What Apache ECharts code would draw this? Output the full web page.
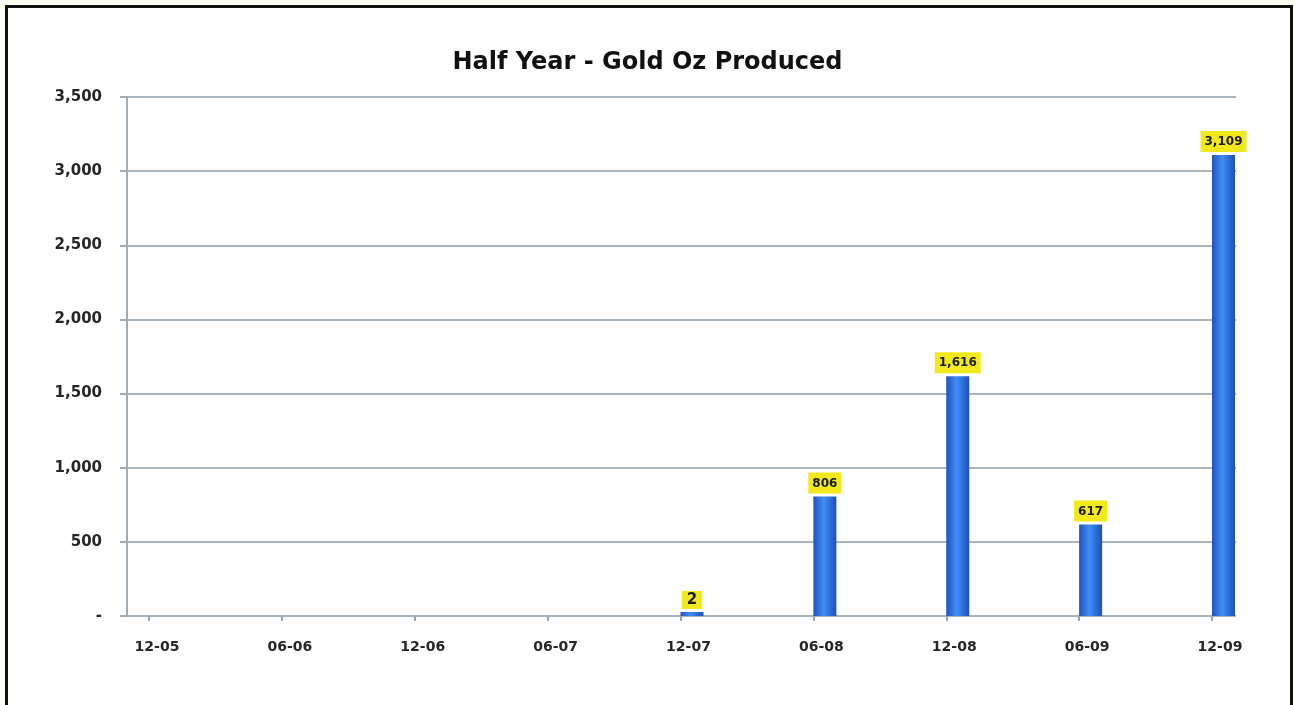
<!DOCTYPE html>
<html>
<head>
<meta charset="utf-8">
<title>Half Year - Gold Oz Produced</title>
<script src="https://cdn.jsdelivr.net/npm/echarts@6/dist/echarts.min.js"></script>
<style>
  html, body { margin: 0; padding: 0; background: #fffff2; overflow: hidden; }
  .frame {
    position: absolute; left: 5px; top: 5px;
    width: 1282px; height: 740px;
    border: 3px solid #111; background: #fff;
  }
  #chart { position: absolute; left: 0; top: 0; width: 1295px; height: 705px; }
</style>
</head>
<body>
<div class="frame"></div>
<div id="chart"></div>
<script>
// half-year periods
const periods = ["12-05", "06-06", "12-06", "06-07", "12-07", "06-08", "12-08", "06-09", "12-09"];
// gold ounces produced (null = no production)
const ounces = [null, null, null, null, 2, 806, 1616, 617, 3109];
// y axis ticks
const yMin = 0;
const yMax = 3500;
const yStep = 500;

const FONT = "DejaVu Sans, Arial, sans-serif";

const chart = echarts.init(document.getElementById("chart"));

function fmt(v) {
  return v === 0 ? "-" : v.toLocaleString("en-US");
}

const barColor = new echarts.graphic.LinearGradient(0, 0, 1, 0, [
  { offset: 0, color: "#2152bf" },
  { offset: 0.45, color: "#3f8df7" },
  { offset: 1, color: "#1f4fb8" },
]);

const option = {
  animation: false,
  title: {
    text: "Half Year - Gold Oz Produced",
    left: "center",
    top: 46,
    textStyle: {
      fontFamily: FONT,
      fontSize: 24,
      fontWeight: "bold",
      color: "#111",
    },
  },
  grid: [
    { left: 127, right: 59, top: 97, bottom: 89 },
    { left: 149, right: 83, top: 97, bottom: 89 },
  ],
  xAxis: [
    { type: "category", gridIndex: 0, data: periods, show: false },
    {
      type: "category",
      gridIndex: 1,
      data: periods,
      boundaryGap: false,
      axisLine: { show: false },
      axisTick: { show: true, length: 5, lineStyle: { color: "#9aa7ae", width: 2 } },
      axisLabel: {
        margin: 24,
        padding: [0, 0, 0, 16],
        color: "#262626",
        fontSize: 14,
        fontWeight: "bold",
        fontFamily: FONT,
      },
      splitLine: { show: false },
    },
  ],
  yAxis: [
    {
      type: "value",
      gridIndex: 0,
      min: yMin,
      max: yMax,
      interval: yStep,
      axisLine: { show: true, lineStyle: { color: "#9fadb5", width: 2 } },
      axisTick: { show: true, length: 7, lineStyle: { color: "#9fadb5", width: 2 } },
      axisLabel: {
        margin: 25,
        formatter: fmt,
        color: "#262626",
        fontSize: 15,
        fontWeight: "bold",
        fontFamily: FONT,
      },
      splitLine: { show: true, lineStyle: { color: "#a9b5bc", width: 2 } },
    },
    { type: "value", gridIndex: 1, min: yMin, max: yMax, interval: yStep, show: false },
  ],
  series: [
    {
      // empty slot so the real bar sits to the right of each tick
      type: "bar",
      xAxisIndex: 1,
      yAxisIndex: 1,
      barWidth: 23,
      data: periods.map(() => null),
    },
    {
      name: "Gold Oz",
      type: "bar",
      xAxisIndex: 1,
      yAxisIndex: 1,
      barWidth: 23,
      barGap: "0%",
      barMinHeight: 4,
      itemStyle: { color: barColor },
      label: {
        show: true,
        position: "top",
        distance: 3,
        formatter: (p) => fmt(p.value),
        backgroundColor: "#f1e91b",
        color: "#1a1a1a",
        fontSize: 12,
        fontWeight: "bold",
        fontFamily: FONT,
        padding: [5, 4, 4, 4],
      },
      data: ounces.map((v) =>
        v !== null && v < 10 ? { value: v, label: { fontSize: 15, padding: [2, 5, 1, 5] } } : v
      ),
    },
  ],
};

chart.setOption(option);
</script>
</body>
</html>
